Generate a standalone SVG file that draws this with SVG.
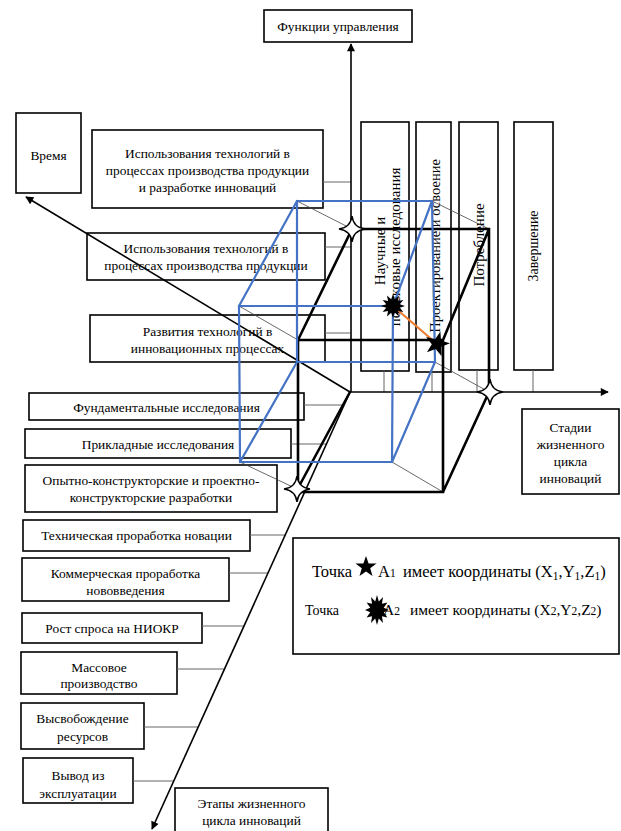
<svg xmlns="http://www.w3.org/2000/svg" width="621" height="831" viewBox="0 0 621 831">
<style>
.box{fill:#fff;stroke:#000;stroke-width:1.6}
.t{font-family:"Liberation Serif","Times New Roman",serif;font-size:13.4px;fill:#000;text-anchor:middle}
.tl{font-family:"Liberation Serif","Times New Roman",serif;font-size:16.5px;fill:#000}
.ax{stroke:#000;stroke-width:1.6;fill:none}
.cube{stroke:#000;stroke-width:2.6;fill:none;stroke-linecap:round}
.blue{stroke:#4472C4;stroke-width:2.2;fill:none;stroke-linecap:round}
.thin{stroke:#444;stroke-width:0.8;fill:none}
.con{stroke:#666;stroke-width:1;fill:none}
.w4{fill:#fff;stroke:#000;stroke-width:1.5}
</style>
<defs>
<marker id="arr" viewBox="0 0 10 10" refX="9" refY="5" markerWidth="11" markerHeight="8" markerUnits="userSpaceOnUse" orient="auto"><path d="M0,0 L10,5 L0,10 z" fill="#000"/></marker>
<path id="star5" d="M0,-13 L3.06,-4.21 L12.36,-4.02 L4.95,1.61 L7.64,10.52 L0,5.2 L-7.64,10.52 L-4.95,1.61 L-12.36,-4.02 L-3.06,-4.21 Z"/>
<path id="burst" d="M0,-12 L1.81,-6.76 L6,-10.39 L4.95,-4.95 L10.39,-6 L6.76,-1.81 L12,0 L6.76,1.81 L10.39,6 L4.95,4.95 L6,10.39 L1.81,6.76 L0,12 L-1.81,6.76 L-6,10.39 L-4.95,4.95 L-10.39,6 L-6.76,1.81 L-12,0 L-6.76,-1.81 L-10.39,-6 L-4.95,-4.95 L-6,-10.39 L-1.81,-6.76 Z"/>
<path id="star4" d="M0,-13 Q1.5,-1.5 13,0 Q1.5,1.5 0,13 Q-1.5,1.5 -13,0 Q-1.5,-1.5 0,-13 Z"/>
</defs>
<rect width="621" height="831" fill="#fff"/>

<g id="func">
<rect class="box" x="264" y="10" width="148" height="32"/>
<text class="t" x="338" y="31">Функции управления</text>
</g>
<g id="time">
<rect class="box" x="16" y="113" width="65" height="80"/>
<text class="t" x="48.5" y="160">Время</text>
</g>
<g id="f1">
<rect class="box" x="92" y="130" width="231" height="78"/>
<text class="t" x="207.5" y="158">Использования технологий в</text>
<text class="t" x="207.5" y="175">процессах производства продукции</text>
<text class="t" x="207.5" y="192">и разработке инноваций</text>
</g>
<g id="f2">
<rect class="box" x="87" y="233" width="238" height="47"/>
<text class="t" x="206" y="253">Использования технологий в</text>
<text class="t" x="206" y="270">процессах производства продукции</text>
</g>
<g id="f3">
<rect class="box" x="90" y="315" width="235" height="47"/>
<text class="t" x="207.5" y="336">Развития технологий в</text>
<text class="t" x="207.5" y="353">инновационных процессах</text>
</g>
<g id="e1">
<rect class="box" x="29" y="393" width="275" height="27"/>
<text class="t" x="166.5" y="412">Фундаментальные исследования</text>
</g>
<g id="e2">
<rect class="box" x="25" y="429" width="266" height="29"/>
<text class="t" x="158" y="449">Прикладные исследования</text>
</g>
<g id="e3">
<rect class="box" x="25" y="465" width="252" height="47"/>
<text class="t" x="151" y="485">Опытно-конструкторские и проектно-</text>
<text class="t" x="151" y="502">конструкторские разработки</text>
</g>
<g id="e4">
<rect class="box" x="23" y="520" width="227" height="31"/>
<text class="t" x="136.5" y="540">Техническая проработка новации</text>
</g>
<g id="e5">
<rect class="box" x="22" y="558" width="207" height="43"/>
<text class="t" x="125.5" y="578">Коммерческая проработка</text>
<text class="t" x="125.5" y="595">нововведения</text>
</g>
<g id="e6">
<rect class="box" x="22" y="613" width="180" height="30"/>
<text class="t" x="112" y="633">Рост спроса на НИОКР</text>
</g>
<g id="e7">
<rect class="box" x="21" y="652" width="156" height="42"/>
<text class="t" x="99" y="672">Массовое</text>
<text class="t" x="99" y="688">производство</text>
</g>
<g id="e8">
<rect class="box" x="21" y="703" width="123" height="46"/>
<text class="t" x="82.5" y="723">Высвобождение</text>
<text class="t" x="82.5" y="741">ресурсов</text>
</g>
<g id="e9">
<rect class="box" x="23" y="758" width="110" height="45"/>
<text class="t" x="78" y="780">Вывод из</text>
<text class="t" x="78" y="798">эксплуатации</text>
</g>
<g id="stages">
<rect class="box" x="175" y="788" width="153" height="50"/>
<text class="t" x="251.5" y="808">Этапы жизненного</text>
<text class="t" x="251.5" y="825">цикла инноваций</text>
</g>
<g id="lifecycle">
<rect class="box" x="522" y="409" width="97" height="85"/>
<text class="t" x="570.5" y="432">Стадии</text>
<text class="t" x="570.5" y="449">жизненного</text>
<text class="t" x="570.5" y="466">цикла</text>
<text class="t" x="570.5" y="483">инноваций</text>
</g>
<g id="s1">
<rect class="box" x="361" y="122" width="48" height="249"/>
<text class="t" style="font-size:15px" transform="translate(385,251) rotate(-90)">Научные и</text>
<text class="t" style="font-size:15px" transform="translate(400,247) rotate(-90)">поисковые исследования</text>
</g>
<g id="s2">
<rect class="box" x="416" y="122" width="35" height="250"/>
<text class="t" style="font-size:14.5px" transform="translate(440,246) rotate(-90)">Проектирование и освоение</text>
</g>
<g id="s3">
<rect class="box" x="459" y="122" width="39" height="248"/>
<text class="t" style="font-size:15px" transform="translate(484,245) rotate(-90)">Потребление</text>
</g>
<g id="s4">
<rect class="box" x="514" y="122" width="39" height="248"/>
<text class="t" style="font-size:14px" transform="translate(538,246) rotate(-90)">Завершение</text>
</g>
<g id="legend">
<rect class="box" x="293" y="538" width="326" height="116"/>
<text class="tl" x="312" y="577">Точка</text>
<use href="#star5" transform="translate(366,567) scale(0.85)" fill="#000"/>
<text class="tl" x="378" y="577">A<tspan font-size="11.5">1</tspan></text>
<text class="tl" x="403" y="577">имеет координаты (X<tspan font-size="11.5" dy="3">1</tspan><tspan dy="-3">,Y</tspan><tspan font-size="11.5" dy="3">1</tspan><tspan dy="-3">,Z</tspan><tspan font-size="11.5" dy="3">1</tspan><tspan dy="-3">)</tspan></text>
<text class="tl" style="font-size:14px" x="305" y="615">Точка</text>
<use href="#burst" transform="translate(377,610) scale(1,1.25)" fill="#000"/>
<text class="tl" style="font-size:15.5px" x="383" y="615">A<tspan font-size="11.5">2</tspan></text>
<text class="tl" style="font-size:15.5px" x="410" y="615">имеет координаты (X<tspan font-size="11.5">2</tspan>,Y<tspan font-size="11.5">2</tspan>,Z<tspan font-size="11.5">2</tspan>)</text>
</g>

<g id="connectors">
<path class="con" d="M323,182 H351 M325,247 H351 M325,333 H350 M304,405 H343 M291,444 H327 M250,535 H286 M229,573 H268 M202,626 H244 M177,669 H224 M144,727 H198 M133,781 H173"/>
<path class="con" d="M384,371 V392 M432,372 V392 M477,370 V392 M533,370 V392"/>
<path class="thin" d="M297,201 L352,229 M432,201 L489,229 M239,306 L298,340 M435,362 L489,392 M240,462 L297,489 M392,462 L443,492"/>
<line class="ax" x1="351" y1="392" x2="351" y2="44" marker-end="url(#arr)"/>
<line class="ax" x1="350" y1="392" x2="26" y2="197" marker-end="url(#arr)"/>
<line class="ax" x1="350" y1="392" x2="152" y2="829" marker-end="url(#arr)"/>
<line class="ax" x1="350" y1="392" x2="608" y2="392" stroke-width="2" marker-end="url(#arr)"/>
<path class="cube" d="M352,229 H489 V392 M352,229 L298,340 M489,229 L443,340 M489,392 L443,492 M350,392 L297,490 M298,340 H443 V492 H298 Z"/>
<path class="blue" d="M297,201 H432 L435,362 H297 Z M239,306 H393 L392,462 H240 Z M297,201 L239,306 M432,201 L393,306 M435,362 L392,462 M297,362 L240,462"/>
<line x1="393" y1="306" x2="437" y2="344" stroke="#ED7D31" stroke-width="2.2"/>
</g>

<g id="points">
<use href="#star4" class="w4" transform="translate(352,229)"/>
<use href="#star4" class="w4" transform="translate(490,392)"/>
<use href="#star4" class="w4" transform="translate(297,489)"/>
<use href="#burst" transform="translate(393,306)" fill="#000"/>
<use href="#star5" transform="translate(437,344) rotate(15)" fill="#000"/>
</g>
</svg>
